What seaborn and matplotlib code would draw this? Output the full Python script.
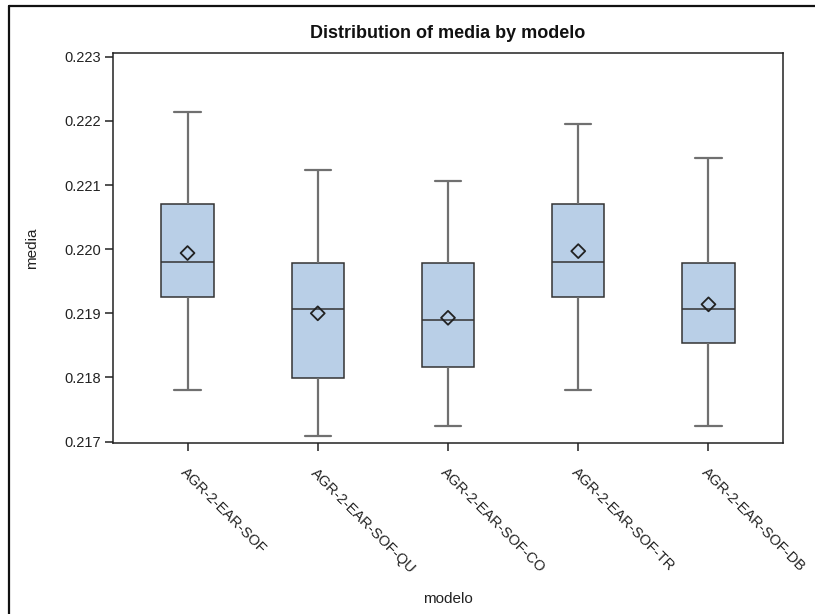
import numpy as np
import pandas as pd
import matplotlib
matplotlib.use("Agg")
import matplotlib.pyplot as plt
from matplotlib.lines import Line2D
import seaborn as sns

# Five-number summaries and means of "media" for each model
modelo = ["AGR-2-EAR-SOF", "AGR-2-EAR-SOF-QU", "AGR-2-EAR-SOF-CO",
          "AGR-2-EAR-SOF-TR", "AGR-2-EAR-SOF-DB"]
minimo = [0.21780, 0.21708, 0.21725, 0.21780, 0.21725]
q1 = [0.21925, 0.21799, 0.21816, 0.21925, 0.21853]
mediana = [0.21980, 0.21907, 0.21889, 0.21980, 0.21907]
q3 = [0.22070, 0.21979, 0.21978, 0.22070, 0.21979]
maximo = [0.22214, 0.22124, 0.22106, 0.22196, 0.22142]
media = [0.21994, 0.21900, 0.21893, 0.21997, 0.21914]

yticks = [0.217, 0.218, 0.219, 0.220, 0.221, 0.222, 0.223]

# Long-form table: each model represented by its five summary values
df = pd.DataFrame({
    "modelo": np.repeat(modelo, 5),
    "media": np.column_stack([minimo, q1, mediana, q3, maximo]).ravel(),
})
means = pd.DataFrame({"modelo": modelo, "media": media})

sns.set_style("white")
plt.rcParams["font.family"] = ["Liberation Sans", "DejaVu Sans"]

fig = plt.figure(figsize=(8.15, 6.14), dpi=100)
ax = fig.add_axes([0.139, 0.2777, 0.8214, 0.636])

edge = "#333333"
whisk = "#707070"
sns.boxplot(
    data=df, x="modelo", y="media", order=modelo, ax=ax,
    whis=(0, 100), width=0.4, color="#B9CFE7", saturation=1,
    boxprops=dict(facecolor="#B9CFE7", edgecolor=edge, linewidth=1.1),
    medianprops=dict(color=edge, linewidth=1.1),
    whiskerprops=dict(color=whisk, linewidth=1.6),
    capprops=dict(color=whisk, linewidth=1.6),
    showfliers=False,
)
sns.scatterplot(
    data=means, x="modelo", y="media", ax=ax, marker="D", s=50,
    facecolor="none", edgecolor="#222222", linewidth=1.3, zorder=5,
)

ax.set_xlim(-0.57, 4.57)
ax.set_ylim(0.21697, 0.22306)
ax.set_yticks(yticks)
ax.set_yticklabels([f"{v:.3f}" for v in yticks])

for s in ax.spines.values():
    s.set_visible(True)
    s.set_color("#222222")
    s.set_linewidth(1.1)

ax.tick_params(axis="both", which="both", direction="out", length=6,
               width=1.1, color="#222222", labelsize=10.5, labelcolor="#222222",
               left=True, bottom=True)
ax.tick_params(axis="y", pad=3)
ax.tick_params(axis="x", pad=10)
plt.setp(ax.get_xticklabels(), rotation=-45, ha="left", va="top",
         rotation_mode="anchor")

ax.set_xlabel("modelo", fontsize=11, color="#222222", labelpad=12)
ax.set_ylabel("media", fontsize=11, color="#222222", labelpad=18)
ax.set_title("Distribution of media by modelo", fontsize=13,
             fontweight="bold", color="#111111", pad=11)

# Outer frame lines along the top and left of the figure
fig.add_artist(Line2D([9 / 815, 1.0], [1 - 6 / 614, 1 - 6 / 614],
                      transform=fig.transFigure, color="#111111", lw=1.6))
fig.add_artist(Line2D([9 / 815, 9 / 815], [0.0, 1 - 6 / 614],
                      transform=fig.transFigure, color="#111111", lw=1.6))

fig.savefig("out.png", dpi=100, facecolor="white")
